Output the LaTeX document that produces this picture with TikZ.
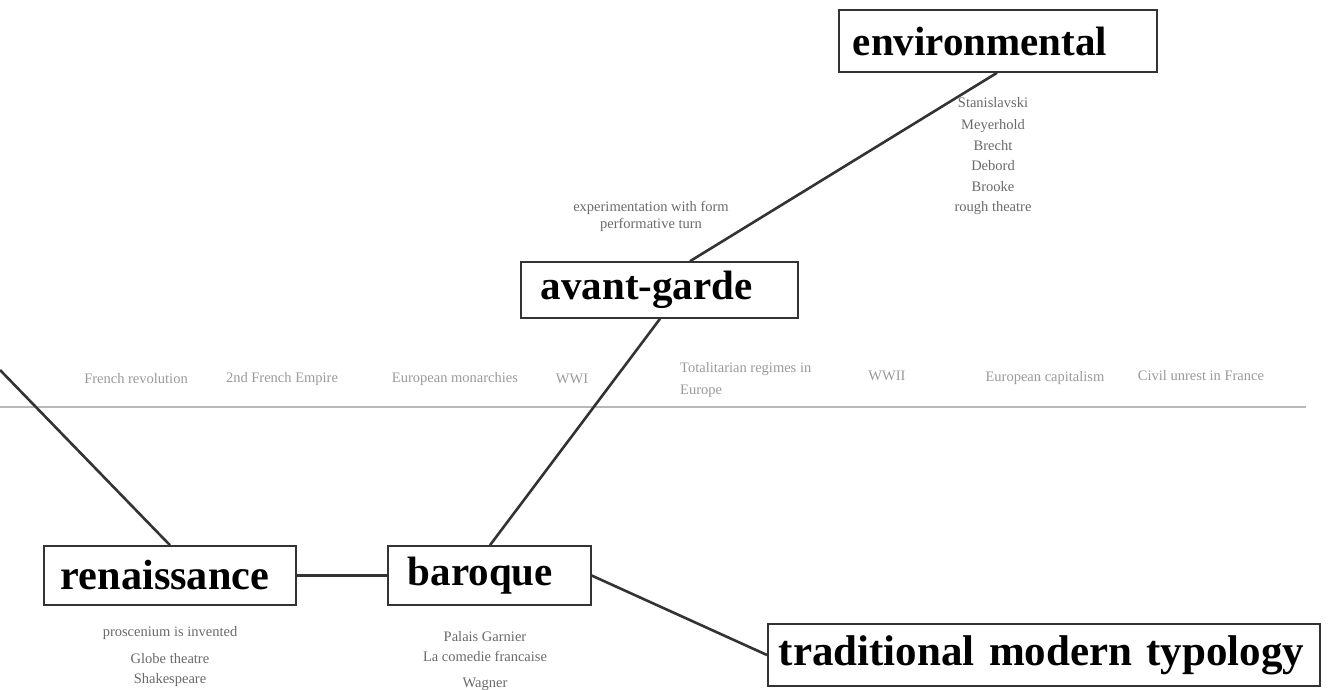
\documentclass[tikz,border=0pt]{standalone}
\usepackage{fontspec}
\setmainfont{Liberation Serif}
\definecolor{linec}{HTML}{333333}
\definecolor{listc}{HTML}{6A6A6A}
\definecolor{timec}{HTML}{9A9A9A}
\definecolor{axisc}{HTML}{B8B8B8}
\begin{document}
\begin{tikzpicture}[x=1pt,y=-1pt,
  era/.style={draw=linec,line width=1.6pt,fill=white,inner ysep=0pt,align=left,font=\fontsize{41}{48}\selectfont\bfseries,anchor=west},
  conn/.style={draw=linec,line width=2.6pt},
  lst/.style={text=listc,font=\fontsize{14.5}{20.5}\selectfont,align=center,inner sep=0pt},
  tl/.style={text=timec,font=\fontsize{14.5}{22}\selectfont,inner sep=0pt}]
\useasboundingbox (0,0) rectangle (1334,690);
% axis
\coordinate (axL) at (0,407);
\coordinate (axR) at (1306,407);
\draw[axisc,line width=2.6pt] (axL) -- (axR);
% timeline labels
\node[tl] (t1) at (136,379) {French revolution};
\node[tl] (t2) at (282,379) {2nd French Empire};
\node[tl] (t3) at (455,379) {European monarchies};
\node[tl] (t4) at (572,379) {WWI};
\node[tl,align=left,anchor=west] (t5) at (680,380) {Totalitarian regimes in\\Europe};
\node[tl] (t6) at (887,376) {WWII};
\node[tl] (t7) at (1045,378) {European capitalism};
\node[tl] (t8) at (1201,376) {Civil unrest in France};
% boxes
\node[era,font=\fontsize{42.3}{48}\selectfont\bfseries,inner xsep=17pt,text width=218pt,minimum height=59pt] (ren) at (43,575.5) {renaissance};
\node[era,inner xsep=20pt,text width=163pt,minimum height=59pt] (bar) at (387,575.5) {baroque};
\node[era,inner xsep=20pt,text width=237pt,minimum height=56pt] (av) at (520,290) {avant-garde};
\node[era,inner xsep=14pt,text width=290pt,minimum height=62pt] (env) at (838,41) {environmental};
\node[era,font=\fontsize{43}{48}\selectfont\bfseries,inner xsep=11pt,text width=530pt,minimum height=62pt] (trad) at (767,655) {traditional modern typology};
% connectors
\coordinate (lftin) at (0,370);
\draw[conn] (lftin) -- (ren.north -| 170,0);
\draw[conn] (ren.east) -- (bar.east -| bar.west);
\draw[conn] (bar.north -| 490,0) -- (av.south -| 660,0);
\draw[conn] (av.north -| 690,0) -- (env.south -| 997,0);
\draw[conn] (bar.east) -- (trad.west);
% lists
\node[lst] (envl) at (993,156) {Stanislavski\\[2pt]Meyerhold\\Brecht\\Debord\\Brooke\\rough theatre};
\node[lst,font=\fontsize{14.5}{17}\selectfont] (avl) at (651,216) {experimentation with form\\performative turn};
\node[lst] (renl) at (170,657) {proscenium is invented\\[6pt]Globe theatre\\Shakespeare};
\node[lst] (barl) at (485,661) {Palais Garnier\\La comedie francaise\\[5pt]Wagner};
\end{tikzpicture}
\end{document}
